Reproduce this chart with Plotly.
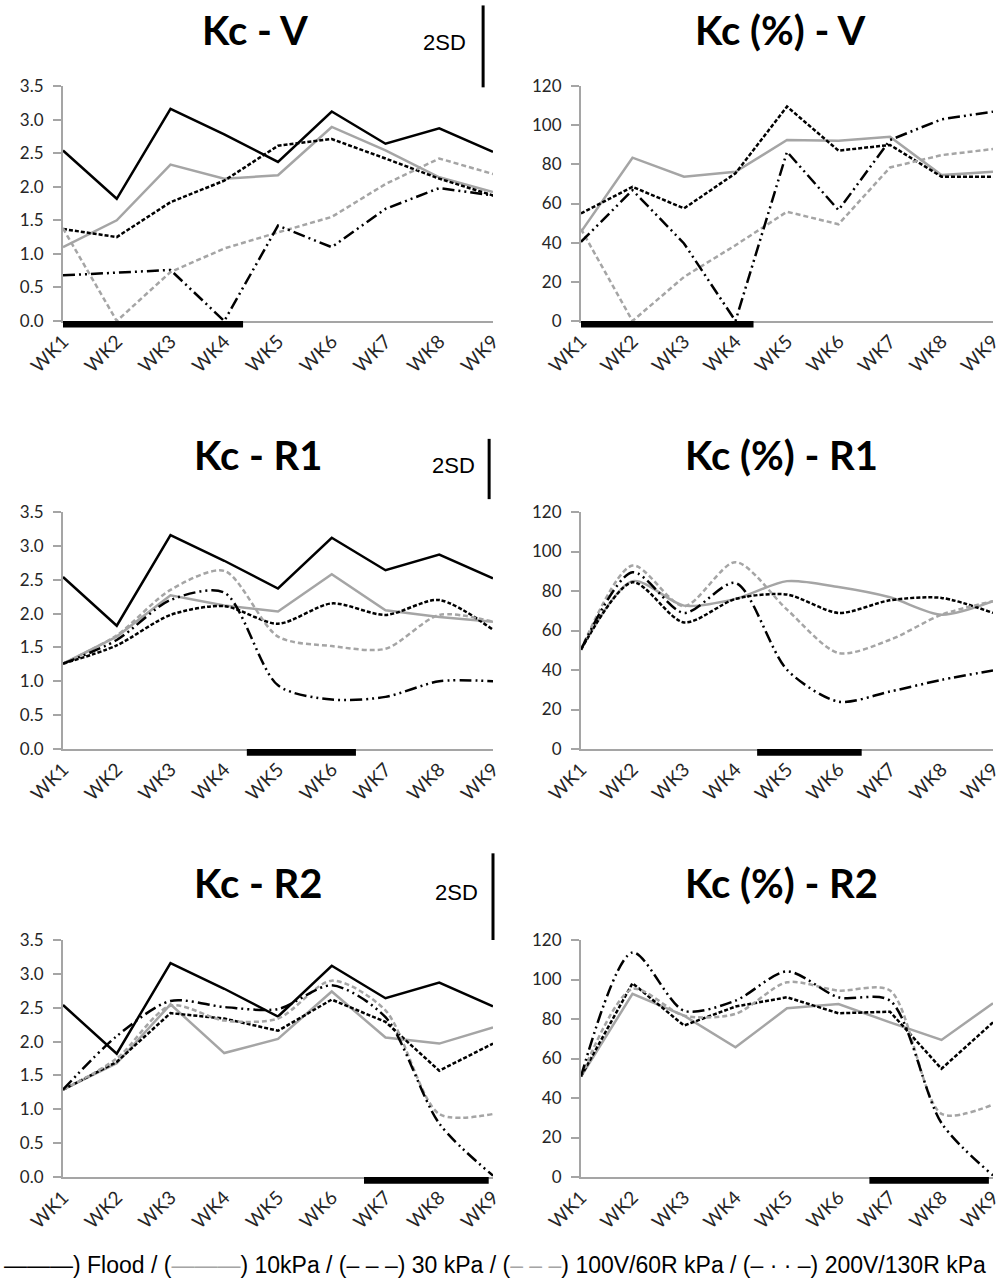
import plotly.graph_objects as go

# ---- data -------------------------------------------------------------
weeks = ["WK1", "WK2", "WK3", "WK4", "WK5", "WK6", "WK7", "WK8", "WK9"]
treatments = ["Flood", "10kPa", "30 kPa", "100V/60R kPa", "200V/130R kPa"]

flood_kc = [2.54, 1.82, 3.16, 2.78, 2.37, 3.12, 2.64, 2.87, 2.52]

# Kc - V
kc_v_10 = [1.10, 1.50, 2.33, 2.12, 2.17, 2.89, 2.54, 2.14, 1.92]
kc_v_30 = [1.37, 1.25, 1.77, 2.09, 2.61, 2.71, 2.42, 2.12, 1.87]
kc_v_100 = [1.38, 0.00, 0.73, 1.08, 1.32, 1.55, 2.04, 2.42, 2.19]
kc_v_200 = [0.68, 0.72, 0.76, 0.00, 1.42, 1.10, 1.67, 1.98, 1.87]

# Kc (%) - V
pct_v_10 = [45.5, 83.4, 73.7, 76.2, 92.4, 92.1, 94.1, 74.5, 76.2]
pct_v_30 = [54.9, 68.5, 57.5, 75.4, 109.5, 87.0, 89.9, 73.7, 73.7]
pct_v_100 = [47.0, 0.0, 22.5, 38.7, 55.8, 49.4, 78.4, 84.7, 87.8]
pct_v_200 = [40.4, 66.8, 39.6, 0.0, 86.4, 56.6, 92.4, 103.0, 106.9]

# Kc - R1
kc_r1_10 = [1.26, 1.66, 2.27, 2.12, 2.03, 2.58, 2.05, 1.95, 1.88]
kc_r1_30 = [1.26, 1.53, 1.98, 2.11, 1.85, 2.15, 1.98, 2.20, 1.76]
kc_r1_100 = [1.26, 1.68, 2.35, 2.63, 1.66, 1.52, 1.48, 1.98, 1.88]
kc_r1_200 = [1.26, 1.61, 2.20, 2.31, 0.94, 0.73, 0.77, 1.00, 1.00]

# Kc (%) - R1
pct_r1_10 = [50.3, 85.0, 72.6, 76.0, 85.0, 82.0, 76.8, 68.0, 74.8]
pct_r1_30 = [50.3, 84.4, 64.1, 76.0, 78.2, 68.9, 75.3, 76.5, 68.9]
pct_r1_100 = [50.3, 92.9, 72.3, 94.6, 70.6, 48.6, 55.3, 68.0, 74.8]
pct_r1_200 = [50.3, 89.5, 68.9, 84.1, 40.1, 24.0, 29.1, 35.0, 39.8]

# Kc - R2
kc_r2_10 = [1.29, 1.68, 2.55, 1.83, 2.04, 2.74, 2.06, 1.97, 2.21]
kc_r2_30 = [1.29, 1.70, 2.42, 2.34, 2.16, 2.62, 2.29, 1.57, 1.97]
kc_r2_100 = [1.29, 1.75, 2.53, 2.31, 2.34, 2.90, 2.46, 0.93, 0.93]
kc_r2_200 = [1.29, 2.08, 2.60, 2.51, 2.48, 2.83, 2.36, 0.79, 0.02]

# Kc (%) - R2
pct_r2_10 = [50.9, 92.7, 81.7, 65.7, 85.4, 87.6, 78.3, 69.4, 88.0]
pct_r2_30 = [50.9, 98.1, 76.7, 86.3, 91.0, 82.9, 83.7, 54.8, 78.3]
pct_r2_100 = [50.9, 95.2, 81.7, 82.6, 98.6, 94.4, 94.4, 32.0, 36.7]
pct_r2_200 = [50.9, 113.7, 84.2, 89.3, 104.1, 91.0, 89.3, 27.3, 0.8]

# stress periods (week index, start/end) drawn as a bar on the x axis
stress_v = [0.0, 3.35]
stress_r1 = [3.42, 5.45]
stress_r2 = [5.6, 7.92]

# 2SD reference bars for the Kc panels: base and length in Kc units
sd_base = [3.48, 3.69, 3.50]
sd_len = [1.22, 0.89, 1.28]

KC_MAX, PCT_MAX = 3.5, 120
kc_ticks = [0, 0.5, 1.0, 1.5, 2.0, 2.5, 3.0, 3.5]
kc_ticktext = ["0.0", "0.5", "1.0", "1.5", "2.0", "2.5", "3.0", "3.5"]
pct_ticks = [0, 20, 40, 60, 80, 100, 120]

# ---- styling ----------------------------------------------------------
GRAY = "#a5a5a5"
INK = "#262626"
W, H = 1005, 1285
styles = {
    "Flood": dict(color="black", dash="solid"),
    "10kPa": dict(color=GRAY, dash="solid"),
    "30 kPa": dict(color="black", dash="4px,2px"),
    "100V/60R kPa": dict(color=GRAY, dash="5px,3px"),
    "200V/130R kPa": dict(color="black", dash="12px,4px,2px,4px,2px,4px"),
}

panels = [
    dict(title="Kc - V", kind="kc", series=[flood_kc, kc_v_10, kc_v_30, kc_v_100, kc_v_200],
         stress=stress_v, smooth=set(), row=0, col=0),
    dict(title="Kc (%) - V", kind="pct", series=[None, pct_v_10, pct_v_30, pct_v_100, pct_v_200],
         stress=stress_v, smooth=set(), row=0, col=1),
    dict(title="Kc - R1", kind="kc", series=[flood_kc, kc_r1_10, kc_r1_30, kc_r1_100, kc_r1_200],
         stress=stress_r1, smooth={"30 kPa", "100V/60R kPa", "200V/130R kPa"}, row=1, col=0),
    dict(title="Kc (%) - R1", kind="pct", series=[None, pct_r1_10, pct_r1_30, pct_r1_100, pct_r1_200],
         stress=stress_r1, smooth={"10kPa", "30 kPa", "100V/60R kPa", "200V/130R kPa"}, row=1, col=1),
    dict(title="Kc - R2", kind="kc", series=[flood_kc, kc_r2_10, kc_r2_30, kc_r2_100, kc_r2_200],
         stress=stress_r2, smooth={"100V/60R kPa", "200V/130R kPa"}, row=2, col=0),
    dict(title="Kc (%) - R2", kind="pct", series=[None, pct_r2_10, pct_r2_30, pct_r2_100, pct_r2_200],
         stress=stress_r2, smooth={"100V/60R kPa", "200V/130R kPa"}, row=2, col=1),
]

# pixel geometry of the plot areas
col_x = [(63, 493), (581, 993)]
row_y = [(86, 321), (512, 749), (940, 1177)]
title_y = [30, 455, 883]
title_x = [[255, 780], [258, 781], [258, 781]]

def px_x(p):
    return p / W

def px_y(p):
    return 1 - p / H

def axis_ids(k):
    s = "" if k == 1 else str(k)
    return "x" + s, "y" + s, "xaxis" + s, "yaxis" + s

fig = go.Figure()
layout = dict(
    width=W, height=H, margin=dict(l=0, r=0, t=0, b=0, autoexpand=False),
    paper_bgcolor="white", plot_bgcolor="white", showlegend=False,
    font=dict(family="Lato, Open Sans, sans-serif", color=INK),
)
shapes, annotations = [], []

for i, p in enumerate(panels):
    xa, ya, xkey, ykey = axis_ids(i + 1)
    x0, x1 = col_x[p["col"]]
    ytop, ybot = row_y[p["row"]]
    for name, vals in zip(treatments, p["series"]):
        if vals is None:
            continue
        st = styles[name]
        shape = "spline" if name in p["smooth"] else "linear"
        fig.add_trace(go.Scatter(
            x=weeks, y=vals, mode="lines", name=name,
            line=dict(color=st["color"], dash=st["dash"], width=2.5,
                      shape=shape, smoothing=0.8),
            xaxis=xa, yaxis=ya, cliponaxis=False,
        ))
    layout[xkey] = dict(
        domain=[px_x(x0), px_x(x1)], anchor=ya, type="category",
        range=[0, 8], showgrid=False, zeroline=False, automargin=False,
        showline=True, linecolor=GRAY, linewidth=2, ticks="",
        tickangle=-45, tickfont=dict(size=19, color=INK),
        fixedrange=True,
    )
    if p["kind"] == "kc":
        yax = dict(range=[0, KC_MAX], tickvals=kc_ticks, ticktext=kc_ticktext)
    else:
        yax = dict(range=[0, PCT_MAX], tickvals=pct_ticks)
    yax.update(
        domain=[px_y(ybot), px_y(ytop)], anchor=xa, showgrid=False, zeroline=False,
        automargin=False, showline=True, linecolor=GRAY, linewidth=2,
        ticks="outside", ticklen=8, tickwidth=2, tickcolor=GRAY,
        ticklabelstandoff=6,
        tickfont=dict(size=17, color=INK), fixedrange=True,
    )
    layout[ykey] = yax

    # stress period bar just below the x axis
    s0, s1 = p["stress"]
    shapes.append(dict(type="rect", xref=xa, yref=f"{ya} domain",
                       x0=s0, x1=s1, y0=-0.028, y1=0.0,
                       fillcolor="black", line=dict(width=0), layer="above"))

    annotations.append(dict(
        text=f"<b>{p['title']}</b>", xref="paper", yref="paper",
        x=px_x(title_x[p["row"]][p["col"]]), y=px_y(title_y[p["row"]]),
        xanchor="center", yanchor="middle", showarrow=False,
        font=dict(size=40, family="Lato, sans-serif", color="black"),
    ))

# 2SD bars beside the Kc panels (domain fraction = Kc value / axis maximum)
sd_xpos = [0.977, 0.991, 1.0]
sd_text_x = [0.942, 0.963, 0.970]
for j, (base, ln) in enumerate(zip(sd_base, sd_len)):
    xa, ya, _, _ = axis_ids(2 * j + 1)
    shapes.append(dict(type="line", xref=f"{xa} domain", yref=f"{ya} domain",
                       x0=sd_xpos[j], x1=sd_xpos[j],
                       y0=base / KC_MAX, y1=(base + ln) / KC_MAX,
                       line=dict(color="black", width=3)))
    annotations.append(dict(
        text="2SD", xref=f"{xa} domain", yref=f"{ya} domain",
        x=sd_text_x[j], y=(base + ln * 0.55) / KC_MAX,
        xanchor="right", yanchor="middle", showarrow=False,
        font=dict(size=22, family="Liberation Sans, Arial, sans-serif", color="black"),
    ))

# line-style key along the bottom
def key(color, glyph):
    return f'<span style="color:{color}">{glyph}</span>'

key_text = (
    key("black", "———") + ") Flood / ("
    + key(GRAY, "———") + ") 10kPa / ("
    + key("black", "– – –") + ") 30 kPa / ("
    + key(GRAY, "– – –") + ") 100V/60R kPa / ("
    + key("black", "– · · –") + ") 200V/130R kPa"
)
annotations.append(dict(
    text=key_text, xref="paper", yref="paper", x=px_x(2), y=px_y(1265),
    xanchor="left", yanchor="middle", showarrow=False,
    font=dict(size=23, family="Liberation Sans Narrow, Liberation Sans, Arial, sans-serif",
              color="black"),
))

layout["shapes"] = shapes
layout["annotations"] = annotations
fig.update_layout(**layout)
fig.write_html("out.html", config={"displayModeBar": False})
